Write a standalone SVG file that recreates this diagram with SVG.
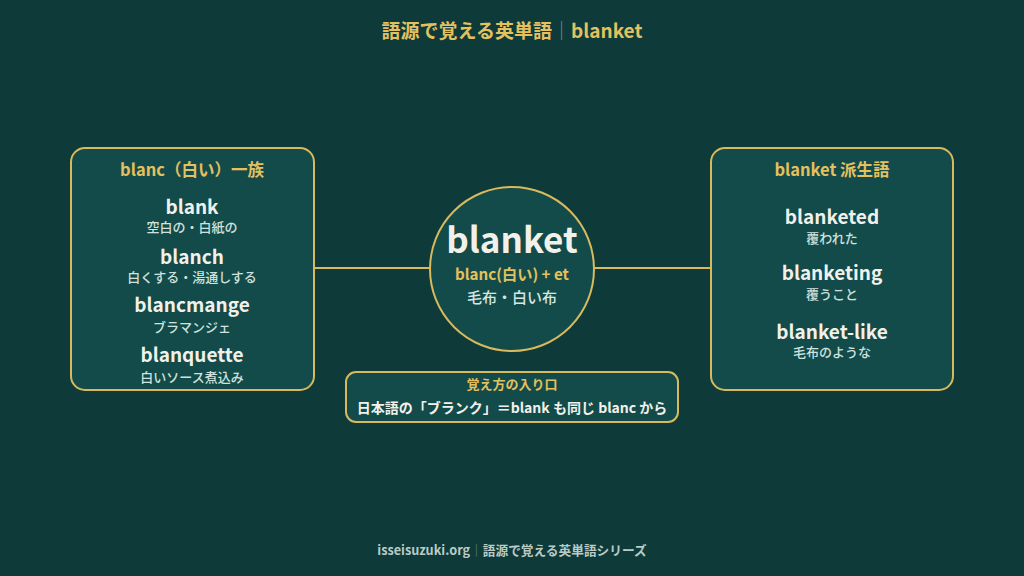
<svg xmlns="http://www.w3.org/2000/svg" width="1024" height="576" viewBox="0 0 1024 576">
<defs>
<style>
text{font-family:"Noto Sans CJK JP","Noto Sans",sans-serif;text-anchor:middle}
.box{fill:#134b4a;stroke:#d8b95c;stroke-width:2}
.gold{fill:#e4c15f;font-weight:700}
.word{fill:#f1f1ea;font-weight:700;font-size:19px}
.sub{fill:#cfe2dd;font-size:13px;font-weight:500}
.line{stroke:#d8b95c;stroke-width:2;fill:none}
</style>
</defs>
<rect width="1024" height="576" fill="#0e3a3a"/>
<text x="512" y="38" class="gold" font-size="19">語源で覚える英単語<tspan fill="#6f8f88" font-weight="400">｜</tspan>blanket</text>
<g id="connectors">
<line class="line" x1="314" y1="268" x2="430" y2="268"/>
<line class="line" x1="594" y1="268" x2="711" y2="268"/>
</g>
<g id="left">
<rect class="box" x="71" y="148" width="243" height="242" rx="14"/>
<text x="192" y="176" class="gold" font-size="16.5">blanc（白い）一族</text>
<text x="192" y="214" class="word">blank</text>
<text x="192" y="232" class="sub">空白の・白紙の</text>
<text x="192" y="264" class="word">blanch</text>
<text x="192" y="282" class="sub">白くする・湯通しする</text>
<text x="192" y="312" class="word">blancmange</text>
<text x="192" y="332" class="sub">ブラマンジェ</text>
<text x="192" y="362" class="word">blanquette</text>
<text x="192" y="382" class="sub">白いソース煮込み</text>
</g>
<g id="center">
<circle cx="512" cy="269" r="82" fill="#134b4a" stroke="#d8b95c" stroke-width="2"/>
<text x="512" y="253" fill="#f1f1ea" font-weight="700" font-size="35">blanket</text>
<text x="512" y="280" class="gold" font-size="15.2">blanc(白い) + et</text>
<text x="512" y="303" fill="#d6e6e2" font-size="15" font-weight="500">毛布・白い布</text>
</g>
<g id="right">
<rect class="box" x="711" y="148" width="242" height="242" rx="14"/>
<text x="832" y="176" class="gold" font-size="16.5">blanket 派生語</text>
<text x="832" y="224" class="word">blanketed</text>
<text x="832" y="243" class="sub">覆われた</text>
<text x="832" y="280" class="word">blanketing</text>
<text x="832" y="299" class="sub">覆うこと</text>
<text x="832" y="339" class="word">blanket-like</text>
<text x="832" y="357" class="sub">毛布のような</text>
</g>
<g id="note">
<rect class="box" x="346" y="372" width="332" height="50" rx="10" stroke-width="1.5"/>
<text x="512" y="389" class="gold" font-size="13">覚え方の入り口</text>
<text x="512" y="413" fill="#f1f1ea" font-weight="700" font-size="14">日本語の「ブランク」＝blank も同じ blanc から</text>
</g>
<text x="512" y="555" fill="#b9cbc6" font-size="12.7" font-weight="700">isseisuzuki.org<tspan fill="#6f8f88" font-weight="400">｜</tspan>語源で覚える英単語シリーズ</text>
</svg>
